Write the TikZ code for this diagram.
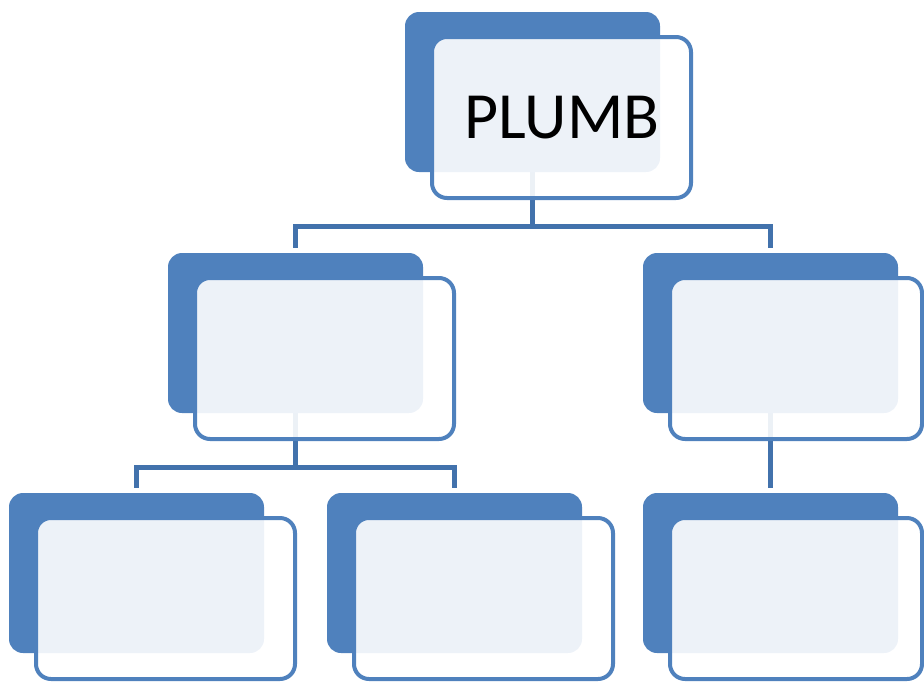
\documentclass[tikz,border=0pt]{standalone}
\usepackage{fontspec}
\setmainfont{Carlito}
\definecolor{backblue}{HTML}{4F81BD}
\definecolor{edgeblue}{HTML}{4F81BD}
\definecolor{linkblue}{HTML}{4272AC}
\pgfdeclarelayer{bg}
\pgfsetlayers{bg,main}
\begin{document}
\begin{tikzpicture}[x=1pt,y=-1pt,
  backbox/.style={rectangle, rounded corners=14pt, fill=backblue, minimum width=255pt, minimum height=160pt, inner sep=0pt, outer sep=0pt},
  frontbox/.style={rectangle, rounded corners=15pt, draw=edgeblue, line width=4pt, fill=white, fill opacity=0.9, text opacity=1, minimum width=259pt, minimum height=161pt, inner sep=0pt, outer sep=0pt},
  narrowfront/.style={frontbox, minimum width=252pt},
  link/.style={draw=linkblue, line width=4.5pt, shorten >=5pt}]
\useasboundingbox (0,0) rectangle (924,681);
% back boxes
\node[backbox] (t)  at (532.5,92) {};
\node[backbox] (ml) at (295.5,333) {};
\node[backbox] (mr) at (770.5,333) {};
\node[backbox] (bl) at (136.5,573) {};
\node[backbox] (bm) at (454.5,573) {};
\node[backbox] (br) at (770.5,573) {};
% connectors
\begin{pgfonlayer}{bg}
\draw[link] (t.south) -- ++(0,54.5) -| (ml.north);
\draw[link] (t.south) -- ++(0,54.5) -| (mr.north);
\draw[link] (ml.south) -- ++(0,54.5) -| (bl.north);
\draw[link] (ml.south) -- ++(0,54.5) -| (bm.north);
\draw[link] (mr.south) -- (br.north);
\end{pgfonlayer}
% front boxes
\node[frontbox] (tf) at (561.5,117.5) {};
\node[font=\fontsize{66}{72}\selectfont, inner sep=0pt, anchor=center] (lbl) at ([xshift=0.5pt]tf.center) {PLUMB};
\node[frontbox] (mlf) at (324.5,358.5) {};
\node[narrowfront] (mrf) at (796,358.5) {};
\node[frontbox] (blf) at (165.5,598.5) {};
\node[frontbox] (bmf) at (483.5,598.5) {};
\node[narrowfront] (brf) at (796,598.5) {};
\end{tikzpicture}
\end{document}
